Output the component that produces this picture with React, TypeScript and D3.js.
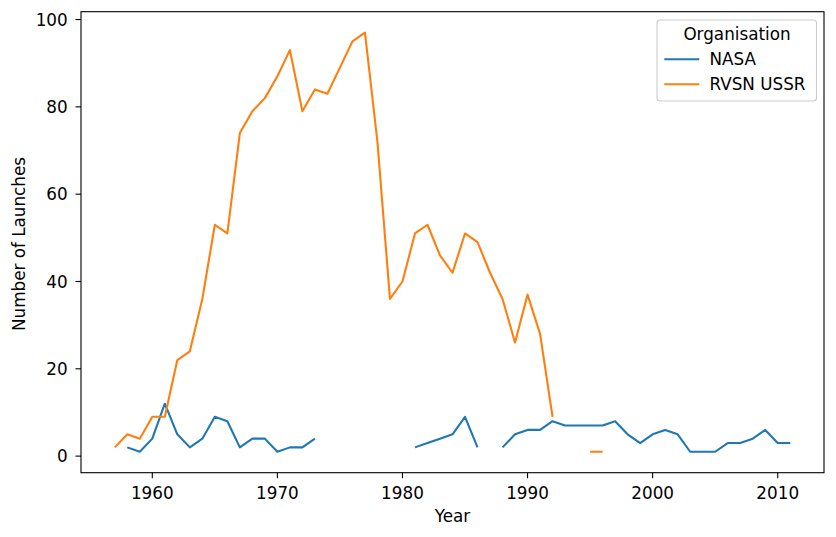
import { useRef, useEffect } from "react";
import * as d3 from "d3";

const nasaYears = [
  1958, 1959, 1960, 1961, 1962, 1963, 1964, 1965, 1966, 1967, 1968, 1969, 1970,
  1971, 1972, 1973, 1974, 1975, 1976, 1977, 1978, 1979, 1980, 1981, 1982, 1983,
  1984, 1985, 1986, 1987, 1988, 1989, 1990, 1991, 1992, 1993, 1994, 1995, 1996,
  1997, 1998, 1999, 2000, 2001, 2002, 2003, 2004, 2005, 2006, 2007, 2008, 2009,
  2010, 2011,
];
const nasaLaunches: (number | null)[] = [
  2, 1, 4, 12, 5, 2, 4, 9, 8, 2, 4, 4, 1,
  2, 2, 4, null, null, null, null, null, null, null, 2, 3, 4,
  5, 9, 2, null, 2, 5, 6, 6, 8, 7, 7, 7, 7,
  8, 5, 3, 5, 6, 5, 1, 1, 1, 3, 3, 4, 6,
  3, 3,
];

const ussrYears = [
  1957, 1958, 1959, 1960, 1961, 1962, 1963, 1964, 1965, 1966, 1967, 1968, 1969,
  1970, 1971, 1972, 1973, 1974, 1975, 1976, 1977, 1978, 1979, 1980, 1981, 1982,
  1983, 1984, 1985, 1986, 1987, 1988, 1989, 1990, 1991, 1992, 1993, 1994, 1995,
  1996,
];
const ussrLaunches: (number | null)[] = [
  2, 5, 4, 9, 9, 22, 24, 36, 53, 51, 74, 79, 82,
  87, 93, 79, 84, 83, 89, 95, 97, 72, 36, 40, 51, 53,
  46, 42, 51, 49, 42, 36, 26, 37, 28, 9, null, null, 1,
  1,
];

const xTicks = [1960, 1970, 1980, 1990, 2000, 2010];
const yTicks = [0, 20, 40, 60, 80, 100];

const seriesNames = ["NASA", "RVSN USSR"];
const seriesColors = ["#1f77b4", "#ff7f0e"];

export default function App() {
  const svgRef = useRef<SVGSVGElement>(null);

  useEffect(() => {
    if (!svgRef.current) return;
    const svg = d3.select(svgRef.current);
    svg.selectAll("*").remove();

    const width = 836;
    const height = 537;
    const font = "DejaVu Sans";
    const fs = 16.8;

    const x = d3.scaleLinear().domain([1954.3, 2013.7]).range([81, 824]);
    const y = d3.scaleLinear().domain([-3.8, 101.8]).range([472.7, 11.7]);

    svg.attr("viewBox", `0 0 ${width} ${height}`);
    svg.append("rect").attr("width", width).attr("height", height).attr("fill", "#fff");

    const label = (
      tx: number,
      ty: number,
      text: string,
      anchor = "middle",
      extra = ""
    ) =>
      svg
        .append("text")
        .attr("transform", `translate(${tx},${ty})${extra}`)
        .attr("text-anchor", anchor)
        .attr("font-family", font)
        .attr("font-size", fs)
        .attr("fill", "#000")
        .text(text);

    // Lines
    const series = [
      { years: nasaYears, values: nasaLaunches },
      { years: ussrYears, values: ussrLaunches },
    ];
    const line = d3
      .line<[number, number | null]>()
      .defined((d) => d[1] != null)
      .x((d) => x(d[0]))
      .y((d) => y(d[1] as number));

    const plot = svg.append("g");
    series.forEach((s, i) => {
      const pts = s.years.map((yr, j) => [yr, s.values[j]] as [number, number | null]);
      plot
        .append("path")
        .datum(pts)
        .attr("d", line)
        .attr("fill", "none")
        .attr("stroke", seriesColors[i])
        .attr("stroke-width", 2.1)
        .attr("stroke-linejoin", "round")
        .attr("stroke-linecap", "butt");
    });

    // Axes frame
    const [x0, x1] = x.range();
    const [y0, y1] = y.range();
    svg
      .append("rect")
      .attr("x", x0)
      .attr("y", y1)
      .attr("width", x1 - x0)
      .attr("height", y0 - y1)
      .attr("fill", "none")
      .attr("stroke", "#000")
      .attr("stroke-width", 1.1);

    // X ticks
    xTicks.forEach((t) => {
      svg
        .append("line")
        .attr("x1", x(t))
        .attr("x2", x(t))
        .attr("y1", y0)
        .attr("y2", y0 + 5.5)
        .attr("stroke", "#000")
        .attr("stroke-width", 1.1);
      label(x(t), 498.5, String(t));
    });

    // Y ticks
    yTicks.forEach((t) => {
      svg
        .append("line")
        .attr("x1", x0 - 5.5)
        .attr("x2", x0)
        .attr("y1", y(t))
        .attr("y2", y(t))
        .attr("stroke", "#000")
        .attr("stroke-width", 1.1);
      label(67.7, y(t) + 6.1, String(t), "end");
    });

    // Axis titles
    label((x0 + x1) / 2, 521.7, "Year");
    label(25, 244, "Number of Launches", "middle", " rotate(-90)");

    // Legend
    svg
      .append("rect")
      .attr("x", 657)
      .attr("y", 20)
      .attr("width", 159.5)
      .attr("height", 81)
      .attr("rx", 3)
      .attr("fill", "#fff")
      .attr("fill-opacity", 0.8)
      .attr("stroke", "#cccccc")
      .attr("stroke-width", 1.1);
    label(737, 40, "Organisation");
    seriesNames.forEach((name, i) => {
      const ly = 59.3 + i * 25;
      svg
        .append("line")
        .attr("x1", 664.3)
        .attr("x2", 699.3)
        .attr("y1", ly)
        .attr("y2", ly)
        .attr("stroke", seriesColors[i])
        .attr("stroke-width", 2.1);
      label(709.5, ly + 6, name, "start");
    });
  }, []);

  return (
    <svg
      ref={svgRef}
      width={836}
      height={537}
      style={{ position: "absolute", left: 0, top: 0, display: "block" }}
    />
  );
}
